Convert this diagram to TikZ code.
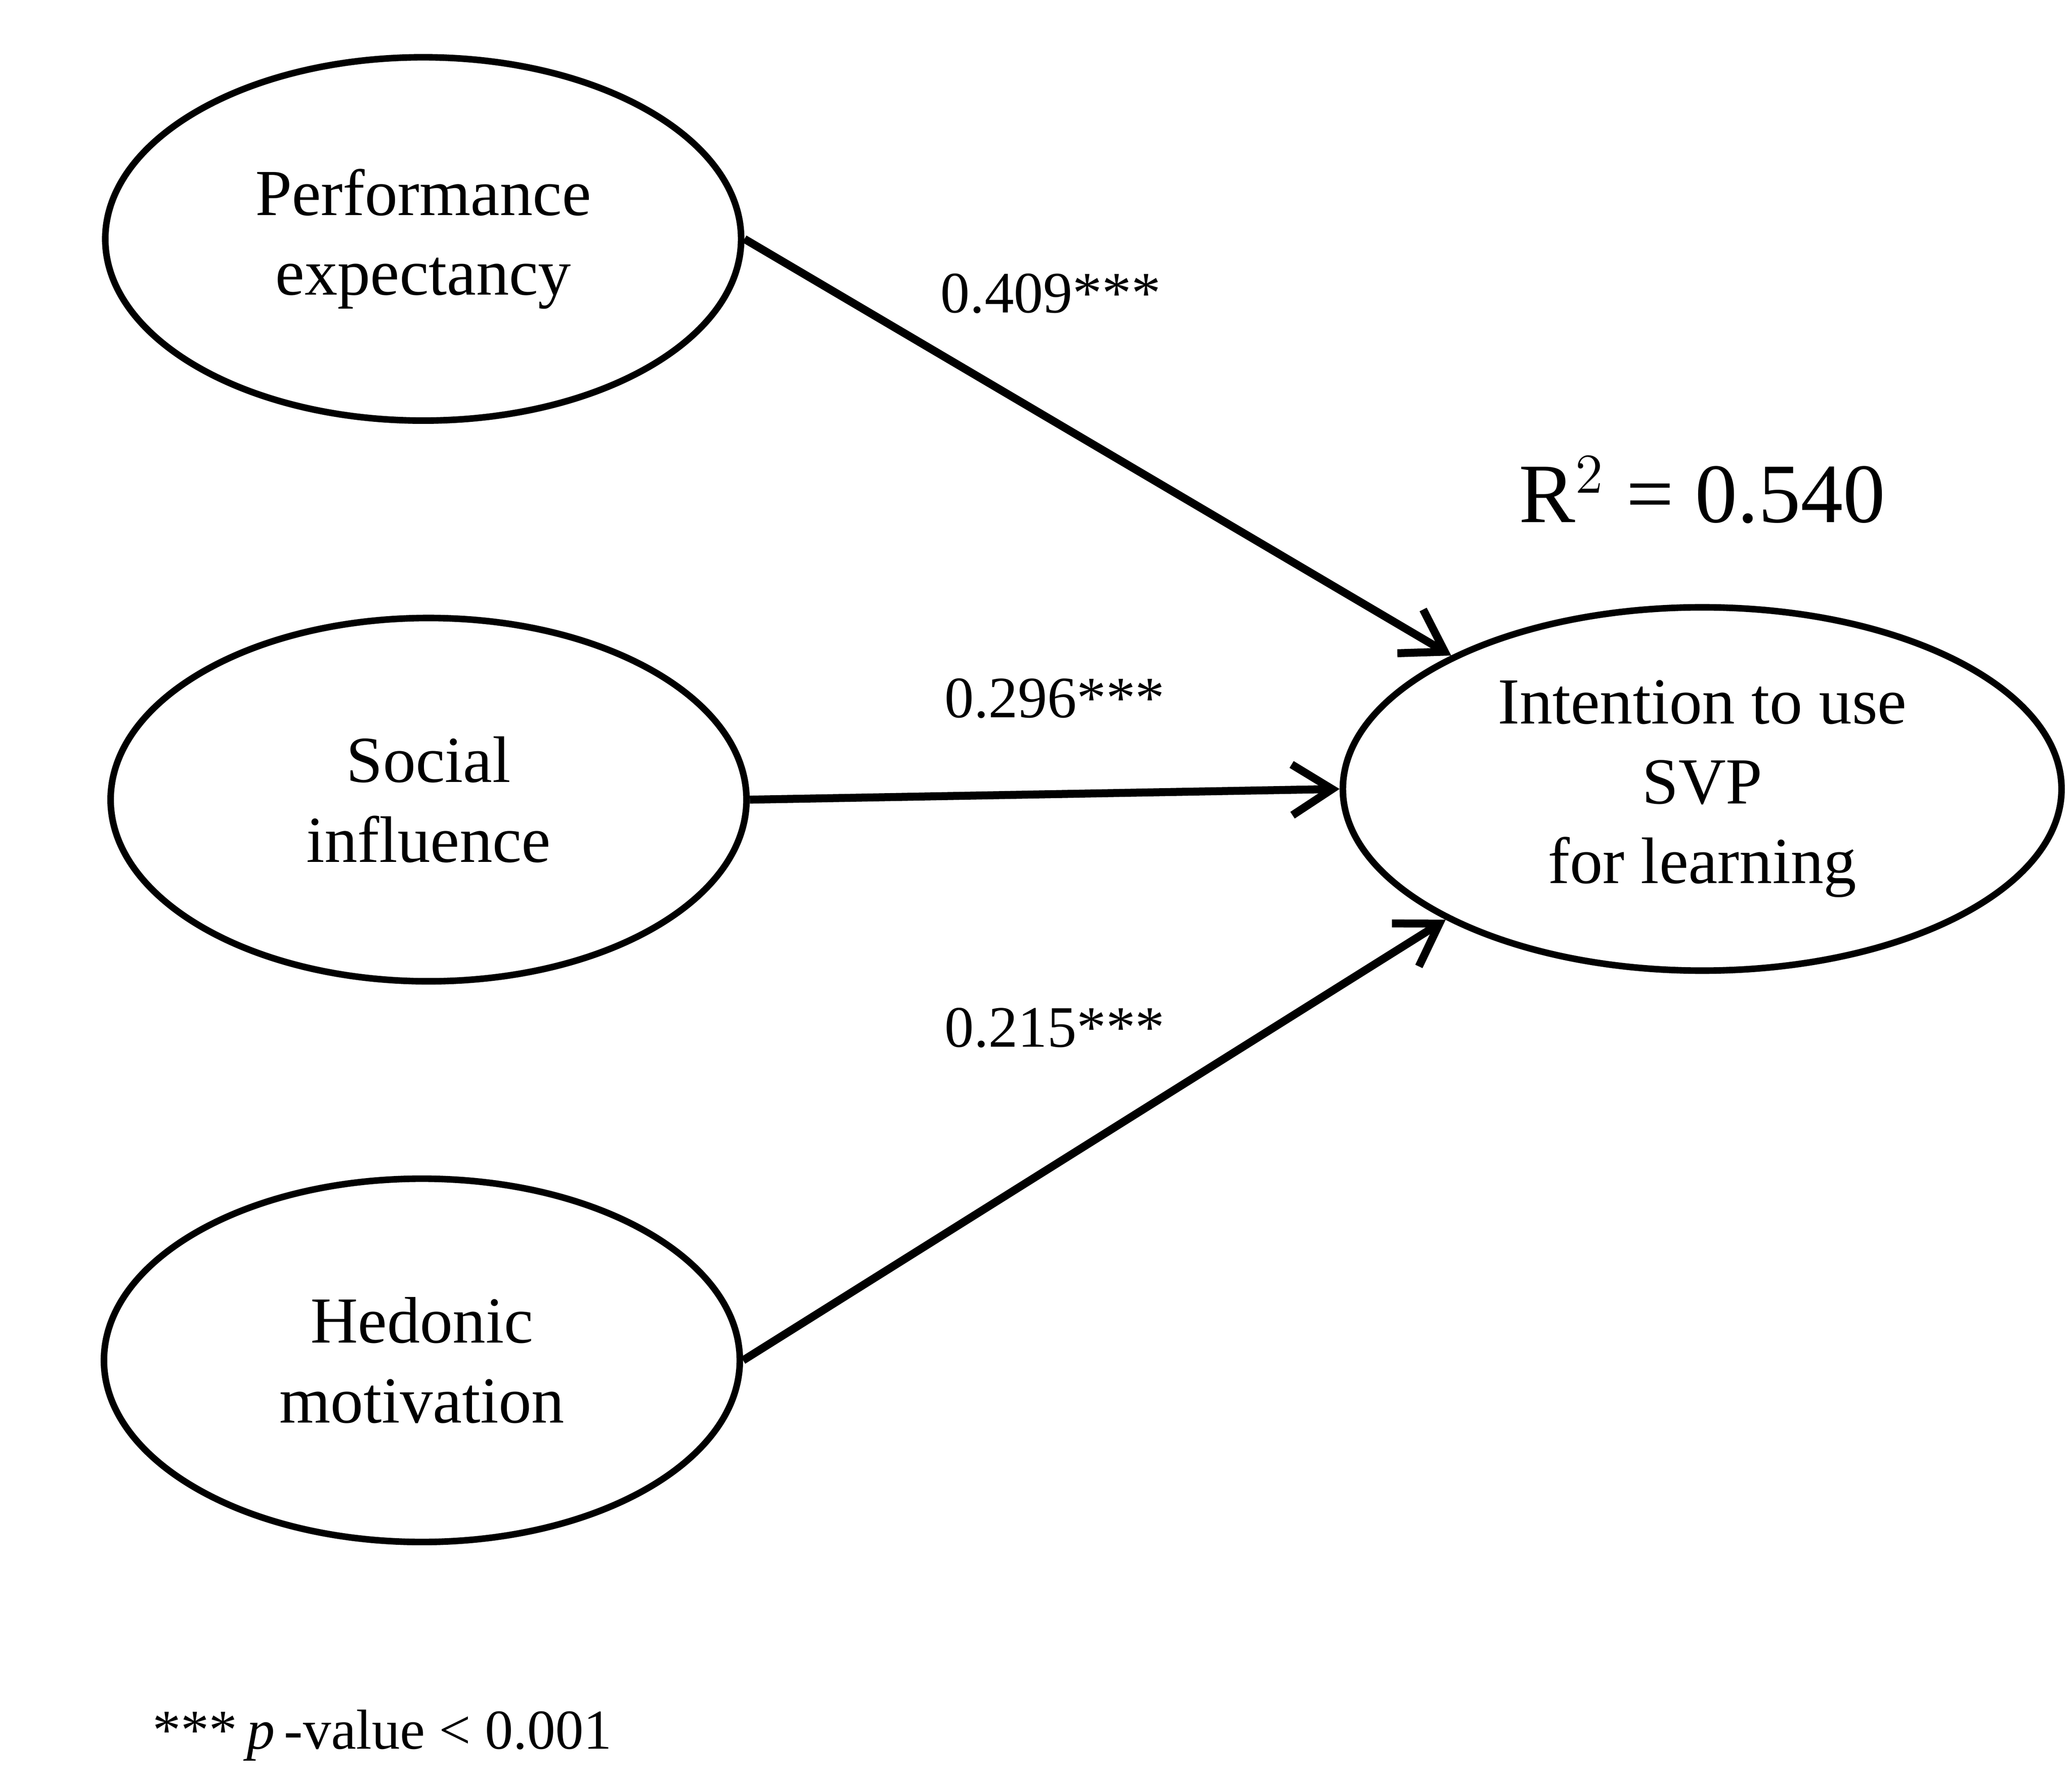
\documentclass[tikz,border=0pt]{standalone}
\usepackage{fontspec}
\setmainfont{Liberation Serif}
\usetikzlibrary{shapes.geometric,arrows.meta}
\begin{document}
\begin{tikzpicture}[x=0.01cm,y=-0.01cm,
  lv/.style={ellipse,draw,line width=1.4pt,minimum width=4.76cm,minimum height=2.72cm,align=center,font=\fontsize{14}{17}\selectfont,inner sep=0pt},
  ar/.style={line width=1.7pt,-{Straight Barb[length=0.3cm,width=0.38cm,line width=1.7pt]}},
  lab/.style={font=\fontsize{12.5}{15}\selectfont}]
\useasboundingbox (0,0) rectangle (1552,1334);
\node[lv] (pe) at (317,179) {Performance\\expectancy};
\node[lv] (si) at (321,599) {Social\\influence};
\node[lv] (hm) at (316,1019) {Hedonic\\motivation};
\node[lv,minimum width=5.38cm] (int) at (1275,591) {Intention to use\\SVP\\for learning};
\draw[ar] (pe.east) -- (int.152.6);
\draw[ar] (si.east) -- (int.west);
\draw[ar] (hm.east) -- (int.207.4);
\node[lab] (l1) at (787,220) {0.409***};
\node[lab] (l2) at (790,523) {0.296***};
\node[lab] (l3) at (790,770) {0.215***};
\node[font=\fontsize{18}{22}\selectfont] (r2) at (1275,367) {R$^{2}$ = 0.540};
\node[anchor=west,font=\fontsize{12}{14}\selectfont] (fn) at (102,1300) {***\,\textit{p}\,-value < 0.001};
\end{tikzpicture}
\end{document}
